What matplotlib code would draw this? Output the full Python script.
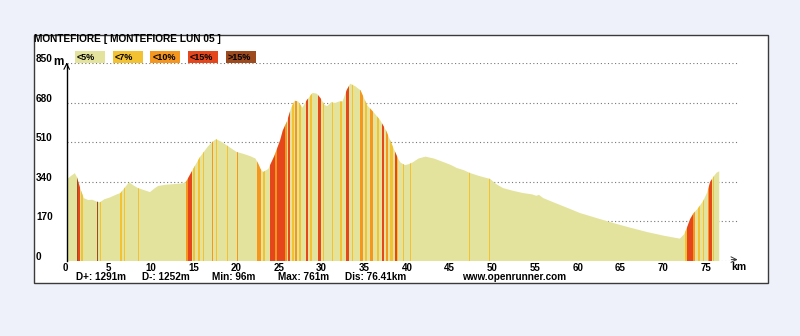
import numpy as np
import matplotlib
matplotlib.use("Agg")
import matplotlib.pyplot as plt
from matplotlib.patches import Polygon, Rectangle

plt.rcParams["font.family"] = ["Liberation Sans", "DejaVu Sans"]

# elevation profile (km, m)
dist_km = [0.0, 0.5, 0.95, 1.2, 1.6, 2.0, 2.5, 3.0, 3.5, 3.9, 4.4, 5.0, 5.8, 6.3,
           6.8, 7.3, 7.8, 8.35, 9.0, 9.75, 10.3, 10.7, 11.5, 12.5, 13.5, 13.9,
           14.1, 14.8, 15.6, 16.5, 17.0, 17.5, 18.2, 19.0, 19.9, 20.7, 21.5,
           22.1, 22.4, 22.7, 23.0, 23.6, 24.3, 25.0, 25.3, 25.8, 26.3, 26.7,
           27.1, 27.6, 28.1, 28.8, 29.3, 29.7, 30.2, 30.5, 31.0, 31.4, 31.9,
           32.3, 32.8, 33.2, 33.8, 34.4, 34.8, 35.2, 35.9, 36.7, 37.4, 38.2,
           38.8, 39.1, 39.6, 40.0, 40.5, 41.2, 42.0, 43.0, 44.1, 45.0, 45.7,
           46.5, 47.2, 48.3, 49.6, 50.3, 51.1, 52.2, 53.4, 54.5, 55.0, 55.3,
           55.8, 57.0, 58.5, 60.1, 62.0, 64.0, 66.0, 68.0, 70.0, 71.8, 72.3,
           72.6, 73.0, 73.4, 74.0, 74.55, 75.0, 75.35, 75.8, 76.1, 76.41]
elev_m = [350, 365, 377, 360, 310, 270, 262, 263, 255, 252, 265, 272, 285, 292,
          315, 338, 325, 313, 305, 296, 312, 322, 327, 330, 333, 337,
          348, 395, 446, 490, 510, 523, 510, 490, 468, 460, 450,
          440, 420, 395, 382, 395, 450, 519, 560, 600, 660, 688,
          685, 658, 690, 722, 718, 700, 670, 665, 682, 678, 685,
          685, 735, 761, 750, 733, 700, 668, 640, 605, 560, 490,
          440, 422, 412, 415, 423, 440, 448, 440, 425, 412, 399,
          390, 378, 365, 352, 330, 313, 302, 292, 286, 280, 284,
          270, 252, 230, 206, 185, 163, 143, 124, 108, 96, 115,
          140, 180, 205, 230, 259, 295, 340, 365, 379, 385]

# slope stripes: (start km, end km, class) 1:<7% 2:<10% 3:<15% 4:>15%
stripe_start = [1.15, 1.3, 1.67, 3.51, 3.9, 6.24, 6.74, 8.3, 13.97, 14.2, 14.75,
                15.41, 15.93, 16.98, 17.48, 18.74, 19.91, 22.32, 23.02, 23.81,
                24.4, 24.66, 25.56, 25.95, 26.35, 26.73, 27.24, 28.02, 28.49,
                29.46, 29.98, 31.03, 32.0, 32.7, 33.37, 34.34, 34.93, 35.51,
                36.3, 36.89, 37.39, 37.86, 38.44, 38.71, 39.34, 40.2, 47.1,
                49.48, 72.4, 72.67, 73.3, 73.96, 74.47, 75.06, 75.21, 75.65]
stripe_end = [1.3, 1.56, 1.94, 3.63, 4.02, 6.44, 6.86, 8.42, 14.2, 14.67, 15.02,
              15.61, 16.08, 17.17, 17.64, 18.92, 20.06, 22.72, 23.22, 24.4,
              24.66, 25.56, 25.83, 26.15, 26.62, 26.93, 27.44, 28.29, 28.69,
              29.74, 30.13, 31.22, 32.2, 33.09, 33.56, 34.73, 35.13, 35.83,
              36.53, 37.16, 37.66, 38.17, 38.71, 38.83, 39.5, 40.28, 47.22,
              49.57, 72.6, 73.3, 73.57, 74.16, 74.62, 75.21, 75.53, 75.8]
stripe_class = [4, 3, 1, 4, 1, 1, 1, 1, 2, 3, 1,
                1, 1, 2, 1, 1, 2, 2, 1, 3,
                2, 3, 2, 3, 1, 2, 1, 3, 1,
                3, 1, 1, 1, 3, 1, 2, 1, 2,
                1, 3, 2, 1, 3, 1, 1, 1, 1,
                1, 1, 3, 2, 1, 1, 2, 3, 1]

legend_labels = ["<5%", "<7%", "<10%", "<15%", ">15%"]
slope_colors = ["#e4e39d", "#f2c232", "#f5971e", "#e6461c", "#9e4a1f"]

elev_ticks = [850, 680, 510, 340, 170, 0]
km_ticks = list(range(0, 80, 5))

title = "MONTEFIORE [ MONTEFIORE LUN 05 ]"
stats = [("D+: 1291m", 76.5), ("D-: 1252m", 141.5), ("Min: 96m", 211.5),
         ("Max: 761m", 278), ("Dis: 76.41km", 345), ("www.openrunner.com", 462)]

W, H = 800, 336
fig = plt.figure(figsize=(W / 100, H / 100), dpi=100, facecolor="#eef1f9")


def fx(px):
    return px / W


def fy(py):
    return 1 - py / H


# white frame
fig.add_artist(Rectangle((fx(34), fy(283)), fx(734), 248 / H, transform=fig.transFigure,
                         facecolor="white", edgecolor="#3a3a3a", lw=1.0, zorder=-1))

x0_px, x1_px = 66.7, 740.0
px_per_km = 8.54
ax = fig.add_axes([fx(x0_px), fy(261), (x1_px - x0_px) / W, 198 / H])
ax.set_xlim(0, (x1_px - x0_px) / px_per_km)
ax.set_ylim(0, 850)
ax.axis("off")

grid_end = (737 - x0_px) / px_per_km
ax.hlines(elev_ticks, 0, grid_end, colors="#777777", linestyles=(0, (1, 2.2)),
          lw=0.8, zorder=1)

verts = np.column_stack([np.r_[dist_km[0], dist_km, dist_km[-1]],
                         np.r_[0, elev_m, 0]])
profile = Polygon(verts, closed=True, facecolor=slope_colors[0], edgecolor="none", zorder=2)
ax.add_patch(profile)

widths = np.subtract(stripe_end, stripe_start)
bars = ax.bar(stripe_start, [850] * len(widths), width=widths,
              align="edge", color=[slope_colors[c] for c in stripe_class],
              lw=0, zorder=3)
for b in bars:
    b.set_clip_path(profile)

# axes with arrows
ax.plot([0, 0], [0, 845], color="black", lw=1.0, zorder=4, clip_on=False)
ax.annotate("", xy=(0, 852), xytext=(0, 830),
            arrowprops=dict(arrowstyle="->", lw=0.8, color="black"), annotation_clip=False)
ax.annotate("", xy=(grid_end + 0.4, 6), xytext=(grid_end - 1.0, 6),
            arrowprops=dict(arrowstyle="->", lw=0.7, color="#333333"), annotation_clip=False)

m_per_px = 850 / 198
for v in elev_ticks:
    ax.text((36 - x0_px) / px_per_km, v + 4 * m_per_px, str(v), ha="left", va="center",
            fontsize=7.2, fontweight="bold", clip_on=False)
ax.text((53 - x0_px) / px_per_km, 850 + 1 * m_per_px, "m", ha="left", va="center",
        fontsize=8.5, fontweight="bold", clip_on=False)
for k in km_ticks:
    ax.text(k - 0.15, -6.6 * m_per_px, str(k), ha="center", va="center",
            fontsize=7.0, fontweight="bold", clip_on=False)
ax.text((739 - x0_px) / px_per_km, -6.5 * m_per_px, "km", ha="center", va="center",
        fontsize=7.5, fontweight="bold", clip_on=False)

fig.text(fx(34), fy(34.5), title, ha="left", va="top", fontsize=7.3, fontweight="bold")

# legend boxes
for i, (lab, col) in enumerate(zip(legend_labels, slope_colors)):
    left = 75 + i * 37.7
    fig.add_artist(Rectangle((fx(left), fy(63)), 30 / W, 12 / H, transform=fig.transFigure,
                             facecolor=col, edgecolor="none", zorder=2))
    fig.text(fx(left + 2), fy(57), lab, ha="left", va="center", fontsize=6.5,
             fontweight="bold", color="black", zorder=3)

for txt, px in stats:
    fig.text(fx(px), fy(277), txt, ha="left", va="center", fontsize=7.2, fontweight="bold")

fig.savefig("out.png", dpi=100, facecolor=fig.get_facecolor())
